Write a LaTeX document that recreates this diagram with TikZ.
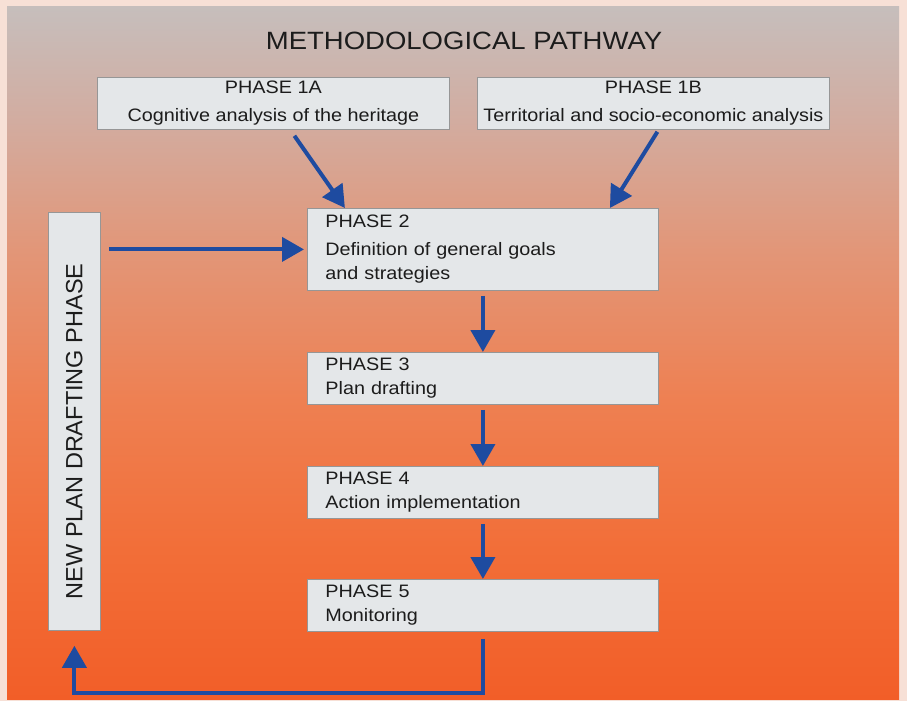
\documentclass[tikz,border=0pt]{standalone}
\usepackage{fontspec}
\usepackage{graphicx}
\setmainfont{Liberation Sans}[FakeStretch=1.1]
\newfontfamily\vertfont{Liberation Sans}
\usetikzlibrary{arrows.meta}

\definecolor{boxfill}{RGB}{228,231,233}
\definecolor{boxline}{RGB}{150,150,150}
\definecolor{flowblue}{RGB}{30,75,160}
\definecolor{inktext}{RGB}{28,28,28}
\definecolor{framepeach}{RGB}{247,224,214}
\definecolor{bgA}{RGB}{242,94,40}
\definecolor{bgB}{RGB}{242,110,56}
\definecolor{bgC}{RGB}{238,128,82}
\definecolor{bgD}{RGB}{226,150,120}
\definecolor{bgE}{RGB}{210,172,160}
\definecolor{bgF}{RGB}{198,190,188}
\pgfdeclareverticalshading{pathfade}{100bp}{color(0bp)=(bgA); color(25bp)=(bgA);
  color(35.8bp)=(bgB); color(46.6bp)=(bgC); color(57.4bp)=(bgD);
  color(66.8bp)=(bgE); color(75bp)=(bgF); color(100bp)=(bgF)}

\begin{document}
\begin{tikzpicture}[
            x=1pt, y=-1pt,
            semithick,
            topbox/.style={draw=boxline, fill=boxfill, line width=0.8pt, text=inktext, anchor=north west,
                minimum width=352pt, minimum height=52pt, inner sep=0pt, align=center,
                font=\fontsize{18}{28}\selectfont},
            phasebox/.style={draw=boxline, fill=boxfill, line width=0.8pt, text=inktext, anchor=north west,
                minimum height=52pt, inner xsep=18pt, inner ysep=0pt, text width=315pt, align=left,
                font=\fontsize{18}{24}\selectfont},
            sidebox/.style={draw=boxline, fill=boxfill, line width=0.8pt, text=inktext, anchor=north west,
                minimum width=52pt, minimum height=418pt, inner sep=0pt,
                font=\vertfont\fontsize{23.5}{28}\selectfont},
            flow/.style={draw=flowblue, line width=4pt, -{Triangle[length=22pt,width=24pt]}}
        ]
        \useasboundingbox (0,0) rectangle (907,701);

        % --- Background ---
        \fill[framepeach] (0,0) rectangle (907,701);
        \shade[shading=pathfade] (7,7) rectangle (899,699);

        % --- Nodes ---
        \node[font=\fontsize{25}{30}\selectfont, text=inktext, anchor=base] (title) at (464,49) {METHODOLOGICAL PATHWAY};
        \node[topbox] (p1a) at (97,77) {PHASE 1A\\ Cognitive analysis of the heritage};
        \node[topbox] (p1b) at (477,77) {PHASE 1B\\ Territorial and socio-economic analysis};
        \node[phasebox, minimum height=82pt] (p2) at (307,208)
            {PHASE 2\\[4pt] Definition of general goals\\ and strategies};
        \node[phasebox] (p3) at (307,352) {PHASE 3\\ Plan drafting};
        \node[phasebox] (p4) at (307,466) {PHASE 4\\ Action implementation};
        \node[phasebox] (p5) at (307,579) {PHASE 5\\ Monitoring};
        \node[sidebox] (newplan) at (48,212) {\rotatebox{90}{NEW PLAN DRAFTING PHASE\hspace*{20pt}}};
        \coordinate (loopbase) at (0,693);

        % --- Arrows ---
        \draw[flow] ([xshift=21pt,yshift=-6pt]p1a.south) -- ([xshift=-138pt]p2.north);
        \draw[flow] ([xshift=4pt,yshift=-2pt]p1b.south) -- ([xshift=127pt]p2.north);
        \draw[flow, shorten <=8pt, shorten >=3pt] (newplan.east |- p2.west) -- (p2.west);
        \foreach \a/\b in {p2/p3, p3/p4, p4/p5}
            \draw[flow, shorten <=5pt] (\a) -- (\b);
        \draw[flow, shorten <=7pt, shorten >=15pt] (p5.south) -- (p5.south |- loopbase) -| (newplan.south);
        \end{tikzpicture}
\end{document}
